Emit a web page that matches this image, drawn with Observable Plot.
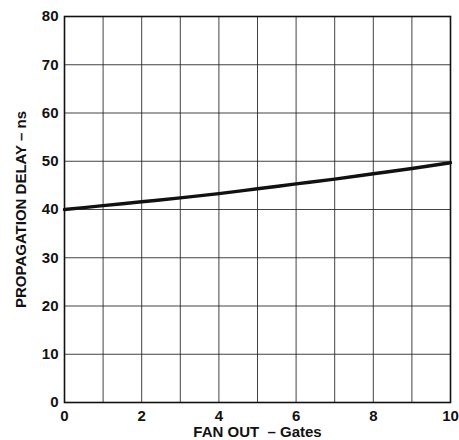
<!DOCTYPE html>
<html>
<head>
<meta charset="utf-8">
<script src="https://cdn.jsdelivr.net/npm/d3@7"></script>
<script src="https://cdn.jsdelivr.net/npm/@observablehq/plot@0.6"></script>
<style>
  html, body { margin: 0; padding: 0; background: #fff; }
</style>
</head>
<body>
<div id="chart"></div>
<script>
const fanOut = [0, 1, 2, 3, 4, 5, 6, 7, 8, 9, 10];
const delayNs = [40, 40.8, 41.6, 42.4, 43.3, 44.3, 45.3, 46.3, 47.4, 48.5, 49.7];
const xTicks = [0, 2, 4, 6, 8, 10];
const yTicks = [0, 10, 20, 30, 40, 50, 60, 70, 80];
const xGrid = [1, 2, 3, 4, 5, 6, 7, 8, 9];
const yGrid = [10, 20, 30, 40, 50, 60, 70];
const xTitle = "FAN OUT  \u2013 Gates";
const yTitle = "PROPAGATION DELAY \u2013 ns";

const data = fanOut.map((f, i) => ({fanOut: f, delay: delayNs[i]}));

const chart = Plot.plot({
  width: 459,
  height: 440,
  marginLeft: 64,
  marginRight: 9,
  marginTop: 16,
  marginBottom: 38,
  style: {
    fontFamily: "'Liberation Sans', Arial, Helvetica, sans-serif",
    fontWeight: "bold",
    fontSize: "15px",
    color: "#111",
    background: "#fff"
  },
  x: {domain: [0, 10]},
  y: {domain: [0, 80]},
  marks: [
    Plot.gridX(xGrid, {stroke: "#222", strokeOpacity: 0.85, strokeWidth: 1}),
    Plot.gridY(yGrid, {stroke: "#222", strokeOpacity: 0.85, strokeWidth: 1}),
    Plot.frame({stroke: "#111", strokeWidth: 1.6}),
    Plot.axisX(xTicks, {tickSize: 0, tickPadding: 8, label: null, fontSize: 15, fontWeight: "bold"}),
    Plot.axisY(yTicks, {tickSize: 0, tickPadding: 6, label: null, fontSize: 15, fontWeight: "bold"}),
    Plot.line(data, {x: "fanOut", y: "delay", curve: "monotone-x", stroke: "#111", strokeWidth: 3.4}),
    Plot.text([xTitle], {frameAnchor: "bottom", dy: 30, lineAnchor: "middle", textAnchor: "middle", fontSize: 15, fontWeight: "bold", fill: "#111"}),
    Plot.text([yTitle], {frameAnchor: "left", dx: -43, rotate: -90, lineAnchor: "middle", textAnchor: "middle", fontSize: 15, fontWeight: "bold", fill: "#111"})
  ]
});
document.getElementById("chart").appendChild(chart);
</script>
</body>
</html>
